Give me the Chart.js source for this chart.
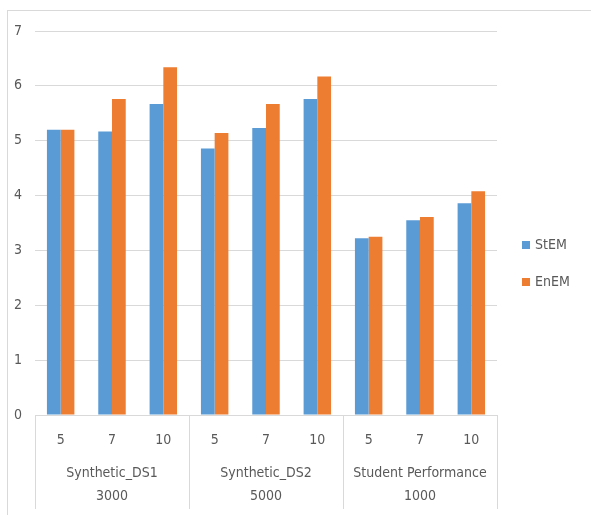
<!DOCTYPE html>
<html>
<head>
<meta charset="utf-8">
<script src="https://cdn.jsdelivr.net/npm/chart.js@4"></script>
<style>
  html, body { margin: 0; padding: 0; background: #fff; overflow: hidden; }
  #wrap { position: relative; width: 591px; height: 515px; overflow: hidden; }
  #frame { position: absolute; left: 7px; top: 10px; width: 700px; height: 600px;
           border-left: 1px solid #d9d9d9; border-top: 1px solid #d9d9d9; }
  canvas { position: absolute; left: 0; top: 0; }
</style>
</head>
<body>
<div id="wrap">
  <div id="frame"></div>
  <canvas id="c" width="591" height="515"></canvas>
</div>
<script>
// Number of clusters per dataset
const tickLabels = ['5', '7', '10', '5', '7', '10', '5', '7', '10'];
// Dataset name and size, one group per three clusters
const groupLabels = [
  ['Synthetic_DS1', '3000'],
  ['Synthetic_DS2', '5000'],
  ['Student Performance', '1000']
];
const seriesNames = ['StEM', 'EnEM'];
const stemValues = [5.20, 5.17, 5.67, 4.86, 5.23, 5.76, 3.22, 3.55, 3.86];
const enemValues = [5.20, 5.76, 6.34, 5.14, 5.67, 6.17, 3.25, 3.61, 4.08];
const yTicks = [0, 1, 2, 3, 4, 5, 6, 7];

const FONT = "'DejaVu Sans Condensed', 'Open Sans', sans-serif";
const SIZE = 14;
const TEXT = '#595959';
const LINE = '#d9d9d9';
const colors = ['#5b9bd5', '#ed7d31'];

// Second level of the category axis: group captions and separators
const groupAxis = {
  id: 'groupAxis',
  afterDraw(chart) {
    const x = chart.scales.x;
    const ctx = chart.ctx;
    const step = x.getPixelForValue(1) - x.getPixelForValue(0);
    const top = chart.chartArea.bottom;
    const bottom = 509;
    ctx.save();
    ctx.strokeStyle = LINE;
    ctx.lineWidth = 1;
    ctx.fillStyle = TEXT;
    ctx.font = SIZE + 'px ' + FONT;
    ctx.textAlign = 'center';
    ctx.textBaseline = 'middle';
    groupLabels.forEach((lines, g) => {
      const left = x.getPixelForValue(g * 3) - step / 2;
      const right = x.getPixelForValue(g * 3 + 2) + step / 2;
      [left, right].forEach(px => {
        const p = Math.round(px) + 0.5;
        ctx.beginPath();
        ctx.moveTo(p, top);
        ctx.lineTo(p, bottom);
        ctx.stroke();
      });
      const cx = (left + right) / 2;
      lines.forEach((t, i) => ctx.fillText(t, cx, 473 + i * 23));
    });
    ctx.restore();
  }
};

// Legend drawn as a vertical list beside the plot
const sideLegend = {
  id: 'sideLegend',
  afterDraw(chart) {
    const ctx = chart.ctx;
    ctx.save();
    ctx.font = SIZE + 'px ' + FONT;
    ctx.textBaseline = 'middle';
    ctx.textAlign = 'left';
    chart.data.datasets.forEach((ds, i) => {
      const cy = 245 + i * 37;
      ctx.fillStyle = ds.backgroundColor;
      ctx.fillRect(522, cy - 4, 8, 8);
      ctx.fillStyle = TEXT;
      ctx.fillText(ds.label, 535, cy);
    });
    ctx.restore();
  }
};

new Chart(document.getElementById('c'), {
  type: 'bar',
  data: {
    labels: tickLabels,
    datasets: [
      { label: seriesNames[0], data: stemValues, backgroundColor: colors[0] },
      { label: seriesNames[1], data: enemValues, backgroundColor: colors[1] }
    ]
  },
  options: {
    responsive: false,
    animation: false,
    devicePixelRatio: 1,
    layout: { padding: { top: 31, left: 0, right: 94, bottom: 0 } },
    datasets: { bar: { categoryPercentage: 0.535, barPercentage: 1.0 } },
    plugins: { legend: { display: false }, tooltip: { enabled: false } },
    scales: {
      x: {
        grid: { display: false },
        border: { display: true, color: LINE, width: 1 },
        ticks: { color: TEXT, font: { family: FONT, size: SIZE }, padding: 9, maxRotation: 0 },
        afterFit(scale) { scale.height = 100; }
      },
      y: {
        min: 0,
        max: 7,
        afterBuildTicks(scale) { scale.ticks = yTicks.map(v => ({ value: v })); },
        grid: { color: LINE, lineWidth: 1, drawTicks: false },
        border: { display: false },
        ticks: { color: TEXT, font: { family: FONT, size: SIZE }, padding: 13 },
        afterFit(scale) { scale.width = 35; }
      }
    }
  },
  plugins: [groupAxis, sideLegend]
});
</script>
</body>
</html>
